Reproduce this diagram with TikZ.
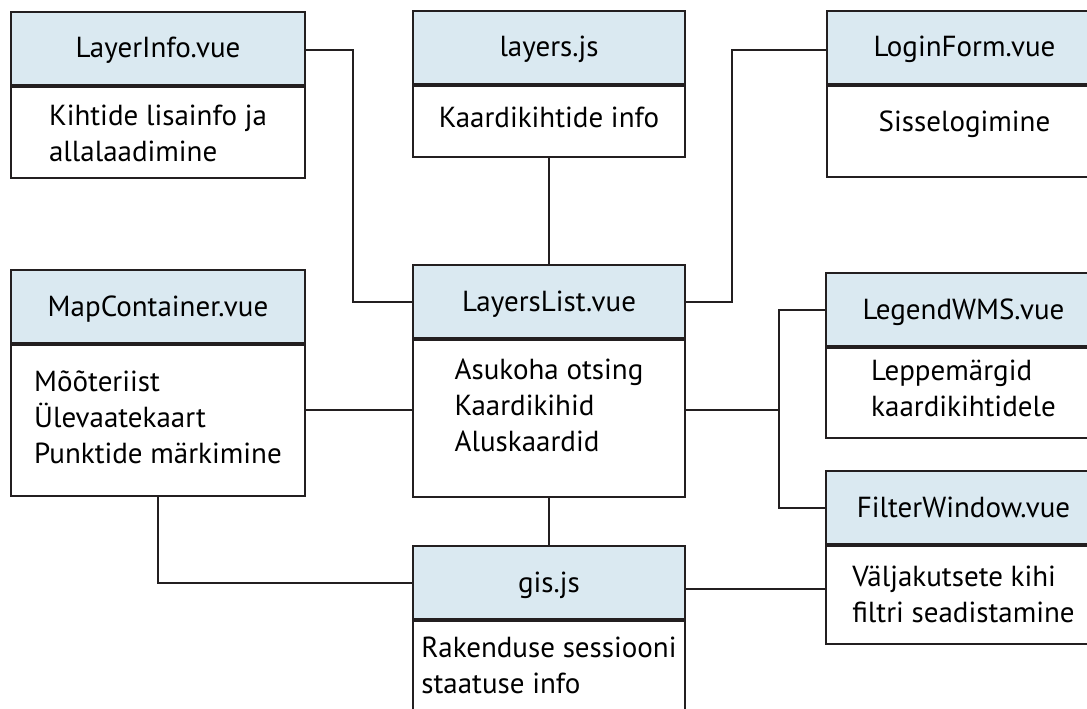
\documentclass[tikz,border=0pt]{standalone}
\usepackage{fontspec}
\setmainfont{PT Sans}
\usetikzlibrary{positioning}
\definecolor{headblue}{RGB}{218,233,241}
\definecolor{linegray}{RGB}{35,31,32}
% body text block, baseline on its first line
\newcommand{\bodylines}[1]{\begin{tabular}[t]{@{}l@{}}#1\end{tabular}}
\tikzset{
  head/.style={draw=linegray,fill=headblue,line width=2pt,inner sep=0pt,
    text height=46pt,text depth=27pt},
  body/.style={draw=linegray,line width=2pt,inner sep=0pt},
  link/.style={draw=linegray,line width=2pt},
}
\begin{document}
\begin{tikzpicture}[x=1pt,y=-1pt,font=\fontsize{29}{36}\selectfont]
    \useasboundingbox (0,0) rectangle (1087,709);
    \clip (0,0) rectangle (1087,709);
    \fill[white] (0,0) rectangle (1087,709);

    % top row
    \node[head,minimum width=294pt,anchor=north west] (layerinfo) at (10,11) {LayerInfo.vue};
    \node[body,minimum width=294pt,below=0pt of layerinfo,text height=38pt,text depth=53pt] (layerinfob)
        {\bodylines{Kihtide lisainfo ja\\allalaadimine}};
    \node[head,minimum width=272pt,anchor=north west] (layersjs) at (412,10) {layers.js};
    \node[body,minimum width=272pt,below=0pt of layersjs,text height=41pt,text depth=30pt] (layersjsb)
        {\bodylines{Kaardikihtide info}};
    \node[head,minimum width=275pt,anchor=north west] (loginform) at (826,10) {LoginForm.vue};
    \node[body,minimum width=275pt,below=0pt of loginform,text height=45pt,text depth=46pt] (loginformb)
        {\bodylines{Sisselogimine}};

    % middle row
    \node[head,minimum width=294pt,anchor=north west] (mapcont) at (10,269) {MapContainer.vue};
    \node[body,minimum width=294pt,below=0pt of mapcont,text height=46pt,text depth=105pt] (mapcontb)
        {\bodylines{Mõõteriist\\Ülevaatekaart\\Punktide märkimine}};
    \node[head,minimum width=272pt,anchor=north west] (layerslist) at (412,264) {LayersList.vue};
    \node[body,minimum width=272pt,below=0pt of layerslist,text height=39pt,text depth=118pt] (layerslistb)
        {\bodylines{Asukoha otsing\\Kaardikihid\\Aluskaardid}};
    \node[head,minimum width=275pt,anchor=north west] (legend) at (825,272) {LegendWMS.vue};
    \node[body,minimum width=275pt,below=0pt of legend,text height=32pt,text depth=58pt] (legendb)
        {\bodylines{Leppemärgid\\kaardikihtidele}};

    % bottom row
    \node[head,minimum width=275pt,anchor=north west] (filter) at (825,470) {FilterWindow.vue};
    \node[body,minimum width=275pt,below=0pt of filter,text height=40pt,text depth=58pt] (filterb)
        {\bodylines{Väljakutsete kihi\\filtri seadistamine}};
    \node[head,minimum width=272pt,anchor=north west] (gis) at (412,545) {gis.js};
    \node[body,minimum width=272pt,below=0pt of gis,text height=36pt,text depth=80pt] (gisb)
        {\bodylines{Rakenduse sessiooni\\staatuse info}};

    \coordinate (spine) at (779,0);

    % connectors
    \begin{scope}[link]
        \draw ([yshift=-1.5pt]layerinfo.east) -- ++(47,0) |- (layerslist.west);
        \draw (layersjsb.south) -- (layerslist.north);
        \draw ([yshift=-2.5pt]loginform.west) -- ++(-94,0) |- (layerslist.east);
        \draw ([yshift=10.5pt]mapcontb.east) -- ([yshift=10.5pt]mapcontb.east -| layerslistb.west);
        \draw (mapcontb.south) |- (gis.west);
        \draw (layerslistb.south) -- (gis.north);
        \draw ([yshift=10.5pt]mapcontb.east -| layerslistb.east) -- ([yshift=10.5pt]mapcontb.east -| spine);
        \draw (legend.west) -| (spine |- filter.west) -- (filter.west);
        \draw ([yshift=-6pt]gis.east) -- ([yshift=-6pt]gis.east -| filterb.west);
    \end{scope}
\end{tikzpicture}
\end{document}
